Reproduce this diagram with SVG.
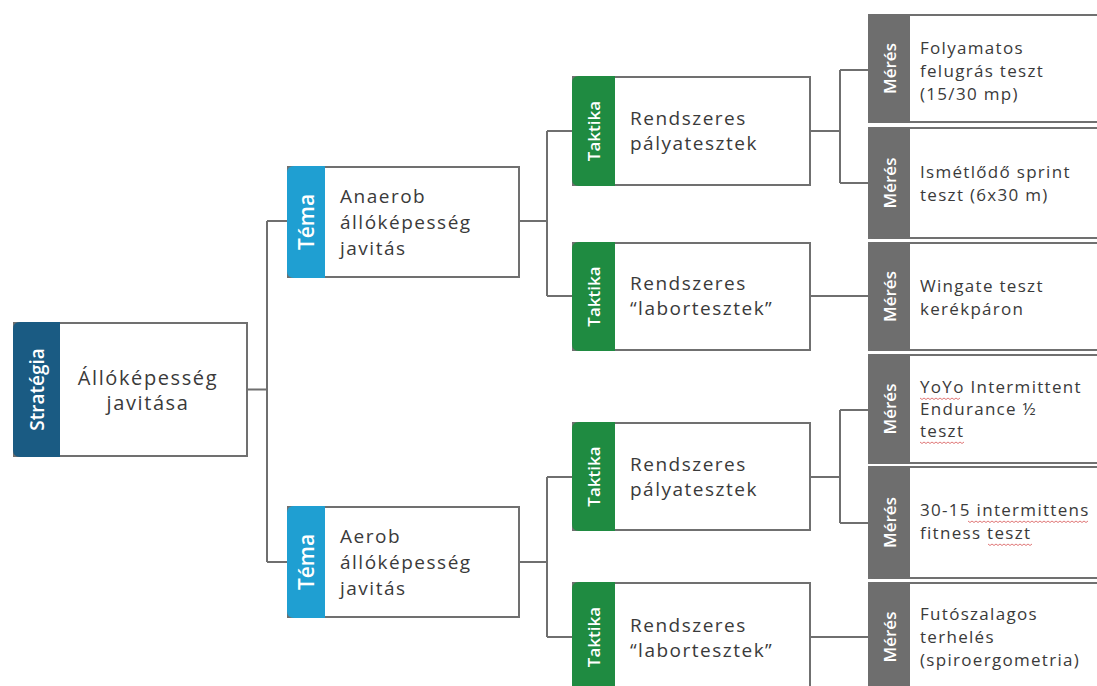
<svg xmlns="http://www.w3.org/2000/svg" width="1097" height="686" viewBox="0 0 1097 686">
<style>
.box{fill:#fff;stroke:#707070;stroke-width:2}
.conn{fill:none;stroke:#6f6f6f;stroke-width:2}
.lbl{font-family:'Open Sans','Noto Sans',sans-serif;font-weight:600;fill:#fff;text-anchor:middle;dominant-baseline:central}
.t{font-family:'Open Sans','Noto Sans',sans-serif;fill:#3a3a3a}
.ts{font-size:20px;letter-spacing:1.6px}
.tm{font-size:19px;letter-spacing:1.5px}
.tk{font-size:17px;letter-spacing:1.3px}
.strat{fill:#1a5b83}
.tema{fill:#1f9fd2}
.takt{fill:#1f8b41}
.meres{fill:#6e6e6e}
.sq{fill:none;stroke:#e07878;stroke-width:1}
</style>
<rect width="1097" height="686" fill="#fff"/>
<g id="connectors">
<path class="conn" d="M247 389.5H267M267 221V562M267 221H287M267 562H287"/>
<path class="conn" d="M519 221H547M547 131V296M547 131H572M547 296H572"/>
<path class="conn" d="M519 562H547M547 477V637M547 477H572M547 637H572"/>
<path class="conn" d="M810 131H840M840 70V183M840 70H868M840 183H868"/>
<path class="conn" d="M810 296H868"/>
<path class="conn" d="M810 477H840M840 410V523M840 410H868M840 523H868"/>
<path class="conn" d="M810 637H868"/>
</g>
<g id="strategia">
<rect class="box" x="14" y="323" width="233" height="133"/>
<path class="strat" d="M60 322H20Q13 322 13 329V450Q13 457 20 457H60Z"/>
<text class="lbl" x="36.5" y="389.5" font-size="19" transform="rotate(-90 36.5 389.5)">Stratégia</text>
<text class="t ts" x="148" y="385" text-anchor="middle">Állóképesség</text>
<text class="t ts" x="148" y="410" text-anchor="middle">javitása</text>
</g>
<g id="tema1">
<rect class="box" x="288" y="167" width="231" height="110"/>
<path class="tema" d="M325 166H294Q287 166 287 173V271Q287 278 294 278H325Z"/>
<text class="lbl" x="306" y="222" font-size="21" transform="rotate(-90 306 222)">Téma</text>
<text class="t tm" x="340" y="203">Anaerob</text>
<text class="t tm" x="340" y="229">állóképesség</text>
<text class="t tm" x="340" y="255">javitás</text>
</g>
<g id="tema2">
<rect class="box" x="288" y="507" width="231" height="110"/>
<path class="tema" d="M325 506H294Q287 506 287 513V611Q287 618 294 618H325Z"/>
<text class="lbl" x="306" y="562" font-size="21" transform="rotate(-90 306 562)">Téma</text>
<text class="t tm" x="340" y="543">Aerob</text>
<text class="t tm" x="340" y="569">állóképesség</text>
<text class="t tm" x="340" y="595">javitás</text>
</g>
<g id="taktika1">
<rect class="box" x="573" y="77" width="237" height="108"/>
<path class="takt" d="M615 76H579Q572 76 572 83V179Q572 186 579 186H615Z"/>
<text class="lbl" x="593.5" y="131" font-size="17" transform="rotate(-90 593.5 131)">Taktika</text>
<text class="t tm" x="630" y="125">Rendszeres</text>
<text class="t tm" x="630" y="150">pályatesztek</text>
</g>
<g id="taktika2">
<rect class="box" x="573" y="243" width="237" height="107"/>
<path class="takt" d="M615 242H579Q572 242 572 249V344Q572 351 579 351H615Z"/>
<text class="lbl" x="593.5" y="296.5" font-size="17" transform="rotate(-90 593.5 296.5)">Taktika</text>
<text class="t tm" x="630" y="290">Rendszeres</text>
<text class="t tm" x="630" y="315">“labortesztek”</text>
</g>
<g id="taktika3">
<rect class="box" x="573" y="423" width="237" height="107"/>
<path class="takt" d="M615 422H579Q572 422 572 429V524Q572 531 579 531H615Z"/>
<text class="lbl" x="593.5" y="476.5" font-size="17" transform="rotate(-90 593.5 476.5)">Taktika</text>
<text class="t tm" x="630" y="471">Rendszeres</text>
<text class="t tm" x="630" y="496">pályatesztek</text>
</g>
<g id="taktika4">
<rect class="box" x="573" y="583" width="237" height="110"/>
<path class="takt" d="M615 582H579Q572 582 572 589V700H615Z"/>
<text class="lbl" x="593.5" y="637" font-size="17" transform="rotate(-90 593.5 637)">Taktika</text>
<text class="t tm" x="630" y="632">Rendszeres</text>
<text class="t tm" x="630" y="657">“labortesztek”</text>
</g>
<g id="meres1">
<rect class="box" x="869" y="15" width="240" height="107"/>
<path class="meres" d="M910 14H875Q868 14 868 21V116Q868 123 875 123H910Z"/>
<text class="lbl" x="889" y="68.5" font-size="17" transform="rotate(-90 889 68.5)">Mérés</text>
<text class="t tk" x="920" y="54">Folyamatos</text>
<text class="t tk" x="920" y="77">felugrás teszt</text>
<text class="t tk" x="920" y="100">(15/30 mp)</text>
</g>
<g id="meres2">
<rect class="box" x="869" y="128" width="240" height="110"/>
<path class="meres" d="M910 127H875Q868 127 868 134V232Q868 239 875 239H910Z"/>
<text class="lbl" x="889" y="183" font-size="17" transform="rotate(-90 889 183)">Mérés</text>
<text class="t tk" x="920" y="178">Ismétlődő sprint</text>
<text class="t tk" x="920" y="201">teszt (6x30 m)</text>
</g>
<g id="meres3">
<rect class="box" x="869" y="243" width="240" height="107"/>
<path class="meres" d="M910 242H875Q868 242 868 249V344Q868 351 875 351H910Z"/>
<text class="lbl" x="889" y="296.5" font-size="17" transform="rotate(-90 889 296.5)">Mérés</text>
<text class="t tk" x="920" y="292">Wingate teszt</text>
<text class="t tk" x="920" y="315">kerékpáron</text>
</g>
<g id="meres4">
<rect class="box" x="869" y="355" width="240" height="108"/>
<path class="meres" d="M910 354H875Q868 354 868 361V457Q868 464 875 464H910Z"/>
<text class="lbl" x="889" y="409" font-size="17" transform="rotate(-90 889 409)">Mérés</text>
<text class="t tk" x="920" y="393">YoYo Intermittent</text>
<text class="t tk" x="920" y="415">Endurance ½</text>
<text class="t tk" x="920" y="437">teszt</text>
<path class="sq" d="M920 398l2 1.5l2-1.5l2 1.5l2-1.5l2 1.5l2-1.5l2 1.5l2-1.5l2 1.5l2-1.5l2 1.5l2-1.5l2 1.5l2-1.5l2 1.5l2-1.5l2 1.5l2-1.5l2 1.5l2-1.5"/>
<path class="sq" d="M920 442l2 1.5l2-1.5l2 1.5l2-1.5l2 1.5l2-1.5l2 1.5l2-1.5l2 1.5l2-1.5l2 1.5l2-1.5l2 1.5l2-1.5l2 1.5l2-1.5l2 1.5l2-1.5l2 1.5l2-1.5l2 1.5l2-1.5"/>
</g>
<g id="meres5">
<rect class="box" x="869" y="467" width="240" height="111"/>
<path class="meres" d="M910 466H875Q868 466 868 473V572Q868 579 875 579H910Z"/>
<text class="lbl" x="889" y="522.5" font-size="17" transform="rotate(-90 889 522.5)">Mérés</text>
<text class="t tk" x="920" y="516">30-15 intermittens</text>
<text class="t tk" x="920" y="539">fitness teszt</text>
<path class="sq" d="M968 521l2 1.5l2-1.5l2 1.5l2-1.5l2 1.5l2-1.5l2 1.5l2-1.5l2 1.5l2-1.5l2 1.5l2-1.5l2 1.5l2-1.5l2 1.5l2-1.5l2 1.5l2-1.5l2 1.5l2-1.5l2 1.5l2-1.5l2 1.5l2-1.5l2 1.5l2-1.5l2 1.5l2-1.5l2 1.5l2-1.5l2 1.5l2-1.5l2 1.5l2-1.5l2 1.5l2-1.5l2 1.5l2-1.5l2 1.5l2-1.5l2 1.5l2-1.5l2 1.5l2-1.5l2 1.5l2-1.5l2 1.5l2-1.5l2 1.5l2-1.5l2 1.5l2-1.5l2 1.5l2-1.5l2 1.5l2-1.5l2 1.5l2-1.5l2 1.5l2-1.5"/>
<path class="sq" d="M988 544l2 1.5l2-1.5l2 1.5l2-1.5l2 1.5l2-1.5l2 1.5l2-1.5l2 1.5l2-1.5l2 1.5l2-1.5l2 1.5l2-1.5l2 1.5l2-1.5l2 1.5l2-1.5l2 1.5l2-1.5l2 1.5l2-1.5"/>
</g>
<g id="meres6">
<rect class="box" x="869" y="583" width="240" height="110"/>
<path class="meres" d="M910 582H875Q868 582 868 589V700H910Z"/>
<text class="lbl" x="889" y="637" font-size="17" transform="rotate(-90 889 637)">Mérés</text>
<text class="t tk" x="920" y="620">Futószalagos</text>
<text class="t tk" x="920" y="643">terhelés</text>
<text class="t tk" x="920" y="666">(spiroergometria)</text>
</g>
</svg>
